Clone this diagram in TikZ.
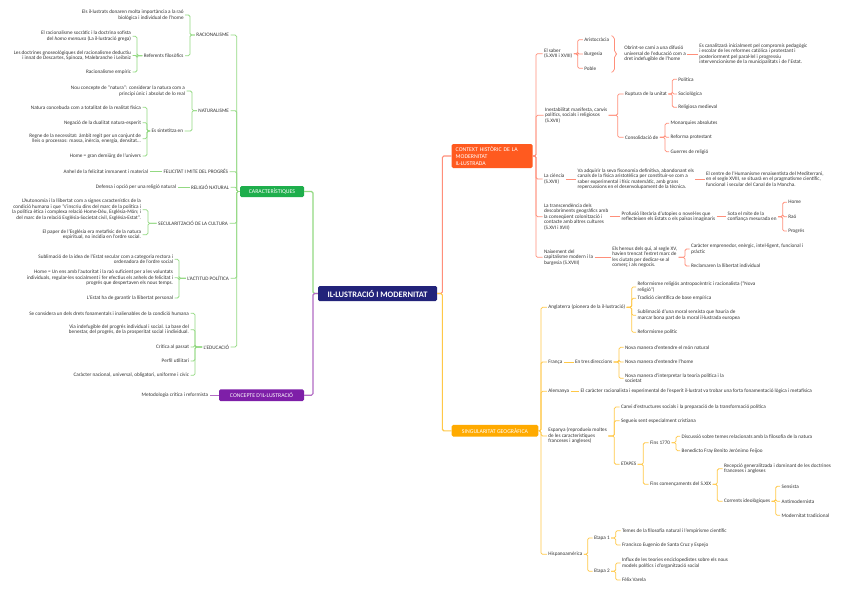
\documentclass[tikz,border=0pt]{standalone}
\usepackage{fontspec}
\setmainfont{Carlito}
\usetikzlibrary{calc}
\definecolor{navy}{HTML}{22237A}
\definecolor{fgreen}{HTML}{1EAE4C}
\definecolor{lgreen}{HTML}{93D982}
\definecolor{fred}{HTML}{FF5A1F}
\definecolor{lred}{HTML}{FF8F7A}
\definecolor{forange}{HTML}{FFAA00}
\definecolor{lorange}{HTML}{FFC847}
\definecolor{fpurple}{HTML}{7E1FA8}
\definecolor{lpurple}{HTML}{B26BC4}
\definecolor{txtc}{HTML}{333333}
\colorlet{lc}{lgreen}
\tikzset{
  txt/.style={font=\fontsize{5.2}{5.5}\selectfont, text=txtc, inner sep=1.5pt, outer sep=0pt},
  tleft/.style={txt, anchor=west, align=left, xshift=-1.5pt},
  tright/.style={txt, anchor=east, align=right, xshift=1.5pt},
  conn/.style={draw=lc, line width=0.75pt, rounded corners=1.5pt},
  mainconn/.style={conn, line width=1.1pt},
  box/.style={rounded corners=1.5pt, text=white, inner sep=0pt, font=\fontsize{5.8}{6.8}\selectfont},
}
\newcommand\rbr[3]{\coordinate (tmpb) at (#2,0);
  \foreach \c in {#3}{\draw[conn] (#1.east) -- (#1.east -| tmpb) |- (\c.west);}}
\newcommand\lbr[3]{\coordinate (tmpb) at (#2,0);
  \foreach \c in {#3}{\draw[conn] (#1.west) -- (#1.west -| tmpb) |- (\c.east);}}
\begin{document}
\begin{tikzpicture}[x=1pt,y=-1pt]
\useasboundingbox (0,0) rectangle (848,608);
\fill[white] (0,0) rectangle (848,608);

% central and main boxes
\node[box, fill=navy, minimum width=119pt, minimum height=15pt, font=\bfseries\fontsize{8.4}{9}\selectfont] (C) at (377.5,293.5) {IL·LUSTRACIÓ I MODERNITAT};
\node[box, fill=fgreen, minimum width=64pt, minimum height=11pt] (car) at (272,191.5) {CARACTERÍSTIQUES};
\node[box, fill=fpurple, minimum width=85pt, minimum height=11.7pt] (con) at (261.5,395.2) {CONCEPTE D'IL·LUSTRACIÓ};
\node[box, fill=fred, text width=73pt, inner xsep=4pt, minimum height=24pt, align=left] (ctx) at (492.2,156) {CONTEXT HISTÒRIC DE LA\\MODERNITAT\\IL·LUSTRADA};
\node[box, fill=forange, minimum width=86.6pt, minimum height=11.7pt] (sing) at (495,430.8) {SINGULARITAT GEOGRÀFICA};

\coordinate (lx) at (313,0);
\coordinate (rx) at (442.3,0);
\colorlet{lc}{lgreen}
\draw[mainconn] (C.west) -- (C.west -| lx) |- (car.east);
\colorlet{lc}{lpurple}
\draw[mainconn] (C.west) -- (C.west -| lx) |- (con.east);
\colorlet{lc}{lred}
\draw[mainconn] (C.east) -- (C.east -| rx) |- (ctx.west);
\colorlet{lc}{lorange}
\draw[mainconn] (C.east) -- (C.east -| rx) |- (sing.west);

% ================= CARACTERISTIQUES (green)
\begin{scope}
\colorlet{lc}{lgreen}
\node[tright] (rac) at (229,35) {RACIONALISME};
\node[tright] (nat) at (229,110.7) {NATURALISME};
\node[tright] (fel) at (228,171.7) {FELICITAT I MITE DEL PROGRÉS};
\node[tright] (rel) at (229,187.3) {RELIGIÓ NATURAL};
\node[tright] (sec) at (228,223.3) {SECULARITZACIÓ DE LA CULTURA};
\node[tright] (pol) at (229,278.3) {L'ACTITUD POLÍTICA};
\node[tright] (edu) at (229,347) {L'EDUCACIÓ};
\lbr{car}{236.7}{rac,nat,fel,rel,sec,pol,edu}

\node[tright] (rac1) at (183.7,15) {Els il·lustrats donaren molta importància a la raó\\biològica i individual de l'home};
\node[tright] (racR) at (183.5,55.7) {Referents filosòfics};
\lbr{rac}{190}{rac1,racR}
\node[tright] (racR1) at (131,36.3) {El racionalisme socràtic i la doctrina sofista\\del \textit{homo mensura} (La il·lustració grega)};
\node[tright] (racR2) at (131,55.5) {Les doctrines gnoseològiques del racionalisme deductiu\\i innat de Descartes, Spinoza, Malebranche i Leibniz};
\node[tright] (racR3) at (131,72) {Racionalisme empíric};
\lbr{racR}{137}{racR1,racR2,racR3}

\node[tright] (nat1) at (185,91) {Nou concepte de "natura": considerar la natura com a\\principi únic i absolut de lo real};
\node[tright] (natS) at (183,131) {Es sintetitza en};
\lbr{nat}{192}{nat1,natS}
\node[tright] (natS1) at (141,107.3) {Natura concebuda com a totalitat de la realitat física};
\node[tright] (natS2) at (141,122.7) {Negació de la dualitat natura-esperit};
\node[tright] (natS3) at (141,138.7) {Regne de la necessitat: àmbit regit per un conjunt de\\lleis o processos: massa, inèrcia, energia, densitat...};
\node[tright] (natS4) at (141,156) {Home = gran demiürg de l'univers};
\lbr{natS}{147}{natS1,natS2,natS3,natS4}

\node[tright] (fel1) at (148,171.7) {Anhel de la felicitat immanent i material};
\draw[conn] (fel.west) -- (fel1.east);
\node[tright] (rel1) at (176,187.3) {Defensa i opció per una religió natural};
\draw[conn] (rel.west) -- (rel1.east);

\node[tright] (sec1) at (141,209.8) {L'Autonomia i la llibertat com a signes característics de la\\condició humana i que "s'inscriu dins del marc de la política i\\la política ètica i complexa relació Home-Déu, Església-Món; i\\del marc de la relació Església-Societat civil, Església-Estat".};
\node[tright] (sec2) at (141,234.7) {El paper de l'Església era metafísic de la natura\\espiritual, no incidia en l'ordre social.};
\lbr{sec}{148}{sec1,sec2}

\node[tright] (pol1) at (173,259.3) {Sublimació de la idea de l'Estat secular com a categoria rectora i\\ordenadora de l'ordre social};
\node[tright] (pol2) at (173,277.8) {Home = Un ens amb l'autoritat i la raó suficient per a les voluntats\\individuals, regular-les socialment i fer efectius els anhels de felicitat i\\progrés que despertaven els nous temps.};
\node[tright] (pol3) at (173,298) {L'Estat ha de garantir la llibertat personal};
\lbr{pol}{179}{pol1,pol2,pol3}

\node[tright] (edu1) at (189,313.3) {Se considera un dels drets fonamentals i inalienables de la condició humana};
\node[tright] (edu2) at (189,329.7) {Via indefugible del progrés individual i social. La base del\\benestar, del progrés, de la prosperitat social i individual.};
\node[tright] (edu3) at (189,347) {Crítica al passat};
\node[tright] (edu4) at (189,361) {Perfil utilitari};
\node[tright] (edu5) at (189,375.3) {Caràcter nacional, universal, obligatori, uniforme i cívic};
\lbr{edu}{195}{edu1,edu2,edu3,edu4,edu5}
\end{scope}

% ================= CONCEPTE (purple)
\begin{scope}
\colorlet{lc}{lpurple}
\node[tright] (con1) at (208,395.2) {Metodologia crítica i reformista};
\draw[conn] (con.west) -- (con1.east);
\end{scope}

% ================= CONTEXT (red)
\begin{scope}
\colorlet{lc}{lred}
\node[tleft] (sab) at (544,53.7) {El saber\\(S.XVII i XVIII)};
\node[tleft] (ine) at (545,115.3) {Inestabilitat manifesta, canvis\\polítics, socials i religiosos\\(S.XVII)};
\node[tleft] (cie) at (544,179) {La ciència\\(S.XVII)};
\node[tleft] (tra) at (544,216.7) {La transcendència dels\\descobriments geogràfics amb\\la conseqüent colonització i\\contacte amb altres cultures\\(S.XVI i XVII)};
\node[tleft] (nai) at (544,257.3) {Naixement del\\capitalisme modern i la\\burgesia (S.XVIII)};
\rbr{ctx}{536}{sab,ine,cie,tra,nai}

\node[tleft] (sab1) at (584.3,39.7) {Aristocràcia};
\node[tleft] (sab2) at (584.3,54) {Burgesia};
\node[tleft] (sab3) at (584.3,68.3) {Poble};
\rbr{sab}{577.7}{sab1,sab2,sab3}
\draw[lc, line width=0.75pt, rounded corners=1.8pt] (611.5,35.7) -- (614.5,37.2) -- (614.5,52.5) -- (617.5,54) -- (614.5,55.5) -- (614.5,70.8) -- (611.5,72.3);
\node[tleft] (obr) at (624.3,54) {Obrint-se camí a una difusió\\universal de l'educació com a\\dret indefugible de l'home};
\node[tleft] (can) at (699.3,54) {Es canalitzarà inicialment pel compromís pedagògic\\i escolar de les reformes catòlica i protestant i\\posteriorment pel paral·lel i progressiu\\intervencionisme de la municipalitats i de l'Estat.};
\draw[conn] (obr.east) -- (can.west);

\node[tleft] (rup) at (625,94) {Ruptura de la unitat};
\node[tleft] (cons) at (625,137.3) {Consolidació de};
\rbr{ine}{617.7}{rup,cons}
\node[tleft] (rup1) at (678.3,79.3) {Política};
\node[tleft] (rup2) at (678.3,94) {Sociològica};
\node[tleft] (rup3) at (678.3,107.3) {Religiosa medieval};
\rbr{rup}{672.3}{rup1,rup2,rup3}
\node[tleft] (cons1) at (670.7,123.3) {Monarquies absolutes};
\node[tleft] (cons2) at (670.7,137.3) {Reforma protestant};
\node[tleft] (cons3) at (670.7,151.7) {Guerres de religió};
\rbr{cons}{665}{cons1,cons2,cons3}

\node[tleft] (cie1) at (577.7,179) {Va adquirir la seva fisonomia definitiva, abandonant els\\canals de la física aristotèlica per constituir-se com a\\saber experimental i físic matemàtic, amb grans\\repercussions en el desenvolupament de la tècnica.};
\draw[conn] (cie.east) -- (cie1.west);
\node[tleft] (cie2) at (706,179) {El centre de l'Humanisme renaixentista del Mediterrani,\\en el segle XVIII, se situarà en el pragmatisme científic,\\funcional i secular del Canal de la Mancha.};
\draw[conn] (cie1.east) -- (cie2.west);

\node[tleft] (tra1) at (621.7,216.7) {Profusió literària d'utopies o novel·les que\\reflecteixen els Estats o els països imaginaris};
\draw[conn] (tra.east) -- (tra1.west);
\node[tleft] (tra2) at (727.7,216.7) {Sota el mite de la\\confiança mesurada en};
\draw[conn] (tra1.east) -- (tra2.west);
\node[tleft] (home) at (788.3,202.3) {Home};
\node[tleft] (rao) at (788.3,216.7) {Raó};
\node[tleft] (prog) at (788.3,231) {Progrés};
\rbr{tra2}{782.7}{home,rao,prog}

\node[tleft] (nai1) at (612.3,257.3) {Els hereus dels qui, al segle XV,\\havien trencat l'estret marc de\\les ciutats per dedicar-se al\\comerç i als negocis.};
\draw[conn] (nai.east) -- (nai1.west);
\node[tleft] (nai2) at (691,249) {Caràcter emprenedor, enèrgic, intel·ligent, funcional i\\pràctic};
\node[tleft] (nai3) at (691,266) {Reclamaren la llibertat individual};
\rbr{nai1}{685}{nai2,nai3}
\end{scope}

% ================= SINGULARITAT (orange)
\begin{scope}
\colorlet{lc}{lorange}
\node[tleft] (ang) at (548.3,307.3) {Anglaterra (pionera de la il·lustració)};
\node[tleft] (fra) at (548.3,362) {França};
\node[tleft] (ale) at (548.3,391.3) {Alemanya};
\node[tleft] (esp) at (548.3,436) {Espanya (reprodueix moltes\\de les característiques\\franceses i angleses)};
\node[tleft] (his) at (548.3,554.3) {Hispanoamèrica};
\rbr{sing}{541}{ang,fra,ale,esp,his}

\node[tleft] (ang1) at (637.7,287) {Reformisme religiós antropocèntric i racionalista ("Nova\\religió")};
\node[tleft] (ang2) at (637.7,298.3) {Tradició científica de base empírica};
\node[tleft] (ang3) at (637.7,315.3) {Sublimació d'una moral sensista que hauria de\\marcar bona part de la moral il·lustrada europea};
\node[tleft] (ang4) at (637.7,332.3) {Reformisme polític};
\rbr{ang}{631.7}{ang1,ang2,ang3,ang4}

\node[tleft] (fra1) at (575,362) {En tres direccions};
\draw[conn] (fra.east) -- (fra1.west);
\node[tleft] (fra11) at (625,347.3) {Nova manera d'entendre el món natural};
\node[tleft] (fra12) at (625,362) {Nova manera d'entendre l'home};
\node[tleft] (fra13) at (625,378.3) {Nova manera d'interpretar la teoria política i la\\societat};
\rbr{fra1}{619}{fra11,fra12,fra13}

\node[tleft] (ale1) at (580.7,391.3) {El caràcter racionalista i experimental de l'esperit il·lustrat va trobar una forta fonamentació lògica i metafísica};
\draw[conn] (ale.east) -- (ale1.west);

\node[tleft] (esp1) at (621,407) {Canvi d'estructures socials i la preparació de la transformació política};
\node[tleft] (esp2) at (621,420.7) {Segueix sent especialment cristiana};
\node[tleft] (eta) at (621,464.3) {ETAPES};
\rbr{esp}{614.3}{esp1,esp2,eta}
\node[tleft] (f1770) at (650,442.7) {Fins 1770};
\node[tleft] (fxix) at (650,484.3) {Fins començaments del S.XIX};
\rbr{eta}{643.3}{f1770,fxix}
\node[tleft] (f1) at (681.7,436.3) {Discussió sobre temes relacionats amb la filosofia de la natura};
\node[tleft] (f2) at (681.7,450.7) {Benedicto Fray Benito Jerónimo Feijoo};
\rbr{f1770}{676}{f1,f2}
\node[tleft] (x1) at (724,468.7) {Recepció generalitzada i dominant de les doctrines\\franceses i angleses};
\node[tleft] (cor) at (724,501.3) {Corrents ideològiques};
\rbr{fxix}{717.3}{x1,cor}
\node[tleft] (sen) at (781.7,486.3) {Sensista};
\node[tleft] (ant) at (781.7,501.3) {Antimodernista};
\node[tleft] (mod) at (781.7,515.3) {Modernitat tradicional};
\rbr{cor}{775.7}{sen,ant,mod}

\node[tleft] (et1) at (594,538) {Etapa 1};
\node[tleft] (et2) at (594,571.3) {Etapa 2};
\rbr{his}{587.7}{et1,et2}
\node[tleft] (e11) at (622,530.7) {Temes de la filosofia natural i l'empirisme científic};
\node[tleft] (e12) at (622,545) {Francisco Eugenio de Santa Cruz y Espejo};
\rbr{et1}{615.7}{e11,e12}
\node[tleft] (e21) at (622,563) {Influx de les teories enciclopedistes sobre els nous\\models polítics i d'organització social};
\node[tleft] (e22) at (622,580) {Fèlix Varela};
\rbr{et2}{615.7}{e21,e22}
\end{scope}
\end{tikzpicture}
\end{document}
